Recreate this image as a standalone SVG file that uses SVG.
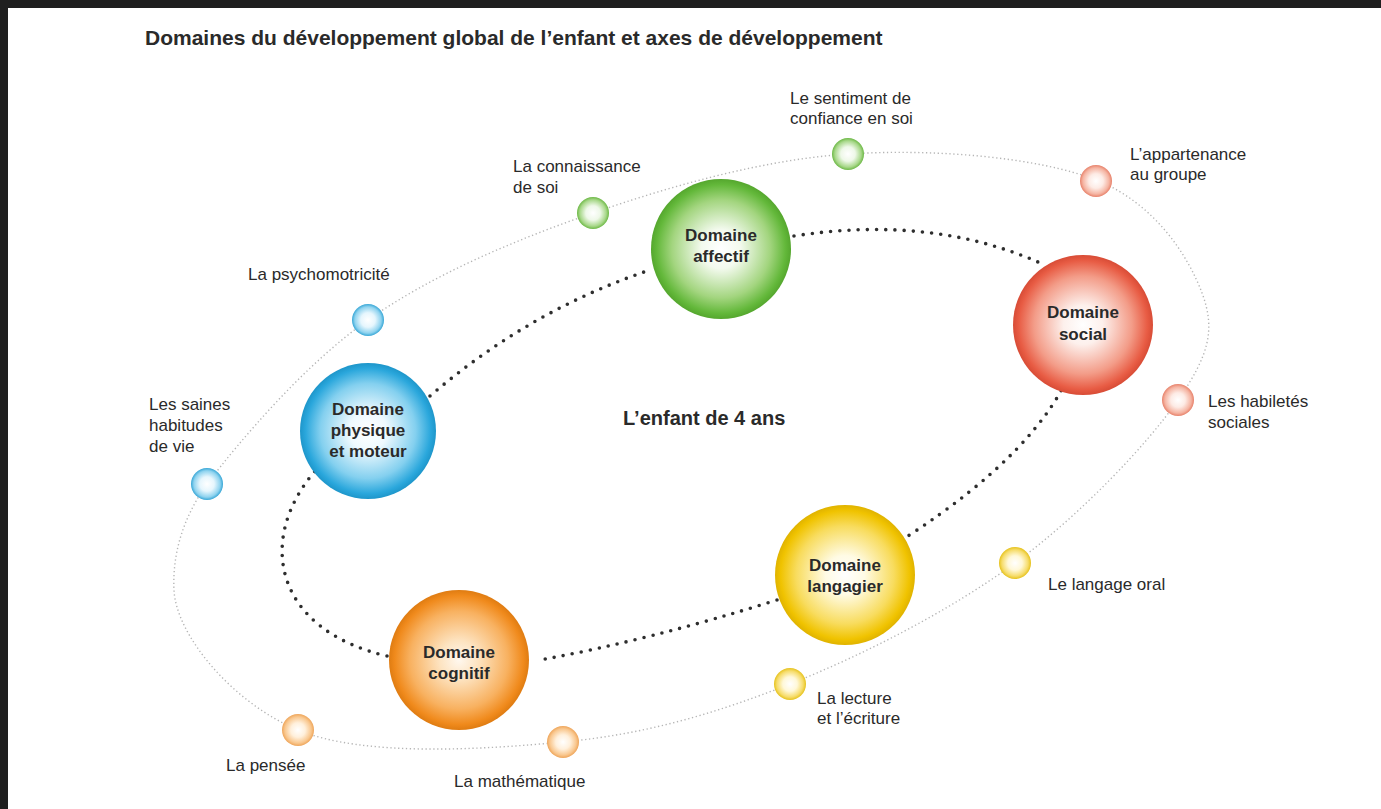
<svg xmlns="http://www.w3.org/2000/svg" width="1381" height="809" viewBox="0 0 1381 809">
<style>
.t{font-family:"Liberation Sans",Arial,sans-serif;fill:#2a2a2a}
.title{font-size:21px;font-weight:bold}
.center{font-size:20px;font-weight:bold}
.dom{font-size:17px;font-weight:bold;text-anchor:middle}
.lab{font-size:17px}
.orbit{fill:none;stroke:#b5b5b5;stroke-width:1.4;stroke-dasharray:1.3 2.6}
.link{fill:none;stroke:#2e2e2e;stroke-width:3.6;stroke-linecap:round;stroke-dasharray:0 9.2}
</style>
<defs>
<radialGradient id="gG"><stop offset="0" stop-color="#ffffff"/><stop offset="0.28" stop-color="#f3faee"/><stop offset="0.7" stop-color="#a3d57f"/><stop offset="0.92" stop-color="#63b83a"/><stop offset="1" stop-color="#55a72e"/></radialGradient>
<radialGradient id="gB"><stop offset="0" stop-color="#ffffff"/><stop offset="0.28" stop-color="#eef9fe"/><stop offset="0.7" stop-color="#84d0ef"/><stop offset="0.92" stop-color="#2aa7dc"/><stop offset="1" stop-color="#1e96ca"/></radialGradient>
<radialGradient id="gR"><stop offset="0" stop-color="#ffffff"/><stop offset="0.28" stop-color="#fdf0ec"/><stop offset="0.7" stop-color="#f39c88"/><stop offset="0.92" stop-color="#e85c44"/><stop offset="1" stop-color="#d84c36"/></radialGradient>
<radialGradient id="gY"><stop offset="0" stop-color="#ffffff"/><stop offset="0.28" stop-color="#fffbe4"/><stop offset="0.7" stop-color="#f8dc5e"/><stop offset="0.92" stop-color="#f0c300"/><stop offset="1" stop-color="#e0b300"/></radialGradient>
<radialGradient id="gO"><stop offset="0" stop-color="#fff8ef"/><stop offset="0.28" stop-color="#fde3c0"/><stop offset="0.7" stop-color="#f8b160"/><stop offset="0.92" stop-color="#f08a1c"/><stop offset="1" stop-color="#df7c12"/></radialGradient>
<radialGradient id="sG"><stop offset="0" stop-color="#ffffff"/><stop offset="0.45" stop-color="#eef8e8"/><stop offset="0.82" stop-color="#a8d88a"/><stop offset="1" stop-color="#6cb845"/></radialGradient>
<radialGradient id="sB"><stop offset="0" stop-color="#ffffff"/><stop offset="0.45" stop-color="#e6f6fd"/><stop offset="0.82" stop-color="#8fd3ef"/><stop offset="1" stop-color="#36a6d6"/></radialGradient>
<radialGradient id="sR"><stop offset="0" stop-color="#ffffff"/><stop offset="0.45" stop-color="#fdebe5"/><stop offset="0.82" stop-color="#f5b4a2"/><stop offset="1" stop-color="#e7816a"/></radialGradient>
<radialGradient id="sY"><stop offset="0" stop-color="#ffffff"/><stop offset="0.45" stop-color="#fff8d8"/><stop offset="0.82" stop-color="#f6dc6a"/><stop offset="1" stop-color="#e6c21c"/></radialGradient>
<radialGradient id="sO"><stop offset="0" stop-color="#ffffff"/><stop offset="0.45" stop-color="#fff0dc"/><stop offset="0.82" stop-color="#f9c78e"/><stop offset="1" stop-color="#eea55a"/></radialGradient>
</defs>
<rect x="0" y="0" width="1381" height="809" fill="#1f1f1f"/>
<rect x="8" y="8" width="1373" height="801" fill="#ffffff"/>
<text class="t title" x="145" y="45">Domaines du développement global de l’enfant et axes de développement</text>
<text class="t center" x="623" y="425">L’enfant de 4 ans</text>
<g id="connectors">
<path id="orbit-axes" class="orbit" d="M848,154 C931.8,148.5 1037,156.8 1096,180 C1155,203.2 1188.3,256.3 1202,293 C1215.7,329.7 1209.2,355 1178,400 C1146.8,445 1079.7,515.7 1015,563 C950.3,610.3 865.3,654.2 790,684 C714.7,713.8 645,734.3 563,742 C481,749.7 363.5,757 298,730 C232.5,703 176,635 174,590 C172,548 187,512 207,484 C240,440.7 303.7,365.2 368,320 C432.3,274.8 513,240.7 593,213 C673,185.3 764.2,159.5 848,154 Z"/>
<path id="link-affectif-social" class="link" d="M794,236 Q930,215 1038,262"/>
<path id="link-social-langagier" class="link" d="M1073,366 Q1040,450 908,536"/>
<path id="link-langagier-cognitif" class="link" d="M777,600 Q650,640 540,660"/>
<path id="link-cognitif-physique" class="link" d="M387,656 C275,630 255,540 316,470"/>
<path id="link-physique-affectif" class="link" d="M430,396 Q530,310 650,270"/>
</g>
<g id="node-affectif"><circle cx="721" cy="249" r="70" fill="url(#gG)"/><text class="t dom" x="721" y="241">Domaine</text><text class="t dom" x="721" y="262">affectif</text></g>
<g id="node-social"><circle cx="1083" cy="325" r="70" fill="url(#gR)"/><text class="t dom" x="1083" y="318">Domaine</text><text class="t dom" x="1083" y="340">social</text></g>
<g id="node-physique"><circle cx="368" cy="431" r="68" fill="url(#gB)"/><text class="t dom" x="368" y="415">Domaine</text><text class="t dom" x="368" y="436">physique</text><text class="t dom" x="368" y="457">et moteur</text></g>
<g id="node-langagier"><circle cx="845" cy="575" r="70" fill="url(#gY)"/><text class="t dom" x="845" y="571">Domaine</text><text class="t dom" x="845" y="592">langagier</text></g>
<g id="node-cognitif"><circle cx="459" cy="660" r="70" fill="url(#gO)"/><text class="t dom" x="459" y="658">Domaine</text><text class="t dom" x="459" y="679">cognitif</text></g>
<g id="axis-sentiment"><circle cx="848" cy="154" r="16" fill="url(#sG)"/><text class="t lab" x="790" y="104">Le sentiment de</text><text class="t lab" x="790" y="124">confiance en soi</text></g>
<g id="axis-connaissance"><circle cx="593" cy="213" r="16" fill="url(#sG)"/><text class="t lab" x="513" y="172">La connaissance</text><text class="t lab" x="513" y="193">de soi</text></g>
<g id="axis-appartenance"><circle cx="1096" cy="181" r="16" fill="url(#sR)"/><text class="t lab" x="1130" y="160">L’appartenance</text><text class="t lab" x="1130" y="180">au groupe</text></g>
<g id="axis-habiletes"><circle cx="1178" cy="400" r="16" fill="url(#sR)"/><text class="t lab" x="1208" y="407">Les habiletés</text><text class="t lab" x="1208" y="428">sociales</text></g>
<g id="axis-psychomotricite"><circle cx="368" cy="320" r="16" fill="url(#sB)"/><text class="t lab" x="248" y="280">La psychomotricité</text></g>
<g id="axis-saines-habitudes"><circle cx="207" cy="484" r="16" fill="url(#sB)"/><text class="t lab" x="149" y="410">Les saines</text><text class="t lab" x="149" y="431">habitudes</text><text class="t lab" x="149" y="452">de vie</text></g>
<g id="axis-langage-oral"><circle cx="1015" cy="563" r="16" fill="url(#sY)"/><text class="t lab" x="1048" y="590">Le langage oral</text></g>
<g id="axis-lecture"><circle cx="790" cy="684" r="16" fill="url(#sY)"/><text class="t lab" x="817" y="704">La lecture</text><text class="t lab" x="817" y="724">et l’écriture</text></g>
<g id="axis-mathematique"><circle cx="563" cy="742" r="16" fill="url(#sO)"/><text class="t lab" x="454" y="787">La mathématique</text></g>
<g id="axis-pensee"><circle cx="298" cy="730" r="16" fill="url(#sO)"/><text class="t lab" x="226" y="771">La pensée</text></g>
</svg>
